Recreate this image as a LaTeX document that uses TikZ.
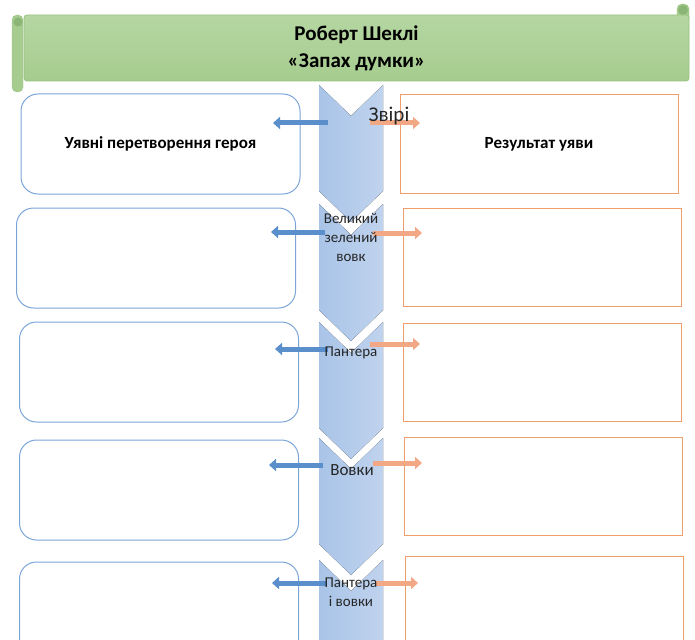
\documentclass[tikz,border=0pt]{standalone}
\usepackage{fontspec}
\setmainfont{Carlito}
\usetikzlibrary{arrows.meta,positioning}

\definecolor{scrolltop}{HTML}{B5D6A2}
\definecolor{scrollgreen}{HTML}{A6CC8F}
\definecolor{scrolledge}{HTML}{97C27E}
\definecolor{scrolldark}{HTML}{8AB574}
\definecolor{chevleft}{HTML}{A9C4E8}
\definecolor{chevright}{HTML}{C0D3EE}
\definecolor{boxblue}{HTML}{7BA5D8}
\definecolor{boxorange}{HTML}{EF9E6C}
\definecolor{arrblue}{HTML}{5A8FCB}
\definecolor{arrorange}{HTML}{F3A885}

\tikzset{
  scroll/.style={top color=scrolltop, bottom color=scrollgreen, draw=scrolledge, line width=0.8pt, rounded corners=3pt, minimum width=665pt, minimum height=66pt, align=center, font=\bfseries\fontsize{21}{27}\selectfont},
  leftbox/.style={draw=boxblue, line width=1pt, rounded corners=17pt, minimum width=279pt, minimum height=100pt, font=\bfseries\fontsize{17}{20}\selectfont},
  rightbox/.style={draw=boxorange, line width=1pt, minimum width=278pt, minimum height=98pt, font=\bfseries\fontsize{17}{20}\selectfont},
  chevron/.style={left color=chevleft, right color=chevright},
  chevtext/.style={text=black!85, align=center, inner sep=0pt, font=\fontsize{15}{19}\selectfont},
  toleft/.style={draw=arrblue, line width=5pt, -{Triangle[width=12pt,length=7pt]}},
  toright/.style={draw=arrorange, line width=5pt, -{Triangle[width=12pt,length=7pt]}},
}

\begin{document}
\begin{tikzpicture}[x=1pt,y=-1pt]
    \useasboundingbox (0,0) rectangle (695,639);
    \clip (0,0) rectangle (695,639);

    % title scroll
    \draw[fill=scrollgreen, draw=scrolledge, rounded corners=5pt] (677,4) rectangle (689,24);
    \fill[scrolldark] (683,10) circle (5pt);
    \node[scroll] (title) at (356.5,48) {Роберт Шеклі\\«Запах думки»};
    \draw[fill=scrollgreen, draw=scrolledge, rounded corners=5pt] (12,15) rectangle (23,92);
    \fill[scrolldark] (18,22) circle (4.5pt);

    % chevrons
    \fill[chevron] (319,85) -- (351,116) -- (383,85) -- (383,191) -- (351,222) -- (319,191) -- cycle;
    \fill[chevron] (319,204) -- (351,235) -- (383,204) -- (383,310) -- (351,341) -- (319,310) -- cycle;
    \fill[chevron] (319,322) -- (351,353) -- (383,322) -- (383,428) -- (351,459) -- (319,428) -- cycle;
    \fill[chevron] (319,438) -- (351,469) -- (383,438) -- (383,544) -- (351,575) -- (319,544) -- cycle;
    \fill[chevron] (319,560) -- (351,591) -- (383,560) -- (383,666) -- (351,697) -- (319,666) -- cycle;

    % left boxes
    \node[leftbox] (left1) at (160.5,144) {Уявні перетворення героя};
    \node[leftbox] (left2) at (156,258) {};
    \node[leftbox] (left3) at (159,372) {};
    \node[leftbox] (left4) at (159,490) {};
    \node[leftbox] (left5) at (159,612) {};

    % right boxes
    \node[rightbox] (right1) at (539,144) {Результат уяви};
    \node[rightbox] (right2) at (542,257.5) {};
    \node[rightbox] (right3) at (542,372) {};
    \node[rightbox] (right4) at (543.5,486) {};
    \node[rightbox] (right5) at (544.5,605) {};

    % arrows
    \coordinate (bs1) at (328,123);   \coordinate (be1) at (273,123);
    \coordinate (bs2) at (325,232);   \coordinate (be2) at (271,232);
    \coordinate (bs3) at (328,349);   \coordinate (be3) at (275,349);
    \coordinate (bs4) at (323,465);   \coordinate (be4) at (269,465);
    \coordinate (bs5) at (327,583);   \coordinate (be5) at (272,583);
    \draw[toleft] (bs1) -- (be1);
    \draw[toleft] (bs2) -- (be2);
    \draw[toleft] (bs3) -- (be3);
    \draw[toleft] (bs4) -- (be4);
    \draw[toleft] (bs5) -- (be5);

    \coordinate (os1) at (370,123);   \coordinate (oe1) at (420,123);
    \coordinate (os2) at (373,233);   \coordinate (oe2) at (422,233);
    \coordinate (os3) at (370,344);   \coordinate (oe3) at (420,344);
    \coordinate (os4) at (373,463);   \coordinate (oe4) at (422,463);
    \coordinate (os5) at (375,583);   \coordinate (oe5) at (418,583);
    \draw[toright] (os1) -- (oe1);
    \draw[toright] (os2) -- (oe2);
    \draw[toright] (os3) -- (oe3);
    \draw[toright] (os4) -- (oe4);
    \draw[toright] (os5) -- (oe5);

    % chevron labels
    \node[chevtext, font=\fontsize{21}{24}\selectfont] (beasts) at (389,116) {Звірі};
    \node[chevtext] (wolf) at (351,237) {Великий\\зелений\\вовк};
    \node[chevtext] (panther) at (351,353) {Пантера};
    \node[chevtext, font=\fontsize{17}{19}\selectfont] (wolves) at (352,470) {Вовки};
    \node[chevtext] (both) at (351,592) {Пантера\\і вовки};

\end{tikzpicture}
\end{document}
